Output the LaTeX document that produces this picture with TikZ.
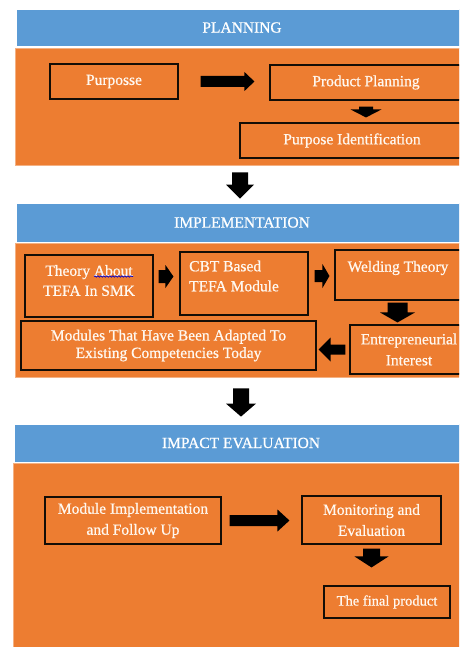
\documentclass[tikz,border=0pt]{standalone}
\usepackage{fontspec}
\setmainfont{Liberation Serif}
\newfontfamily\boxfont{Liberation Serif}[FakeBold=0.7]
\usetikzlibrary{calc,decorations.pathmorphing}
\definecolor{hdrblue}{HTML}{5B9BD5}
\definecolor{panelorange}{HTML}{ED7D31}
\definecolor{txtwhite}{HTML}{FFF8F0}
% block arrow: #1 start, #2 tip, #3 half shaft width, #4 half head width, #5 head length
\newcommand\blkarrow[5]{%
  \coordinate (bah) at ($(#2)!#5!(#1)$);
  \fill[arrowfill] ($(#1)!#3!90:(#2)$) -- ($(bah)!#3!-90:(#1)$) -- ($(bah)!#4!-90:(#1)$)
    -- (#2) -- ($(bah)!#4!90:(#1)$) -- ($(bah)!#3!90:(#1)$) -- ($(#1)!#3!-90:(#2)$) -- cycle;}
\begin{document}
\begin{tikzpicture}[x=1pt,y=-1pt,
  hdr/.style={draw=white, line width=0.8pt, fill=hdrblue, text=white, inner sep=0pt, font=\boxfont\fontsize{15.5}{18}\selectfont},
  panel/.style={draw=panelorange!60!white, line width=0.6pt, fill=panelorange},
  box/.style={draw=black!90!brown, line width=1.1pt, fill=panelorange, text=txtwhite, inner sep=0pt, align=center, font=\boxfont\fontsize{15.5}{21}\selectfont},
  txt/.style={text=txtwhite, inner sep=0pt, font=\boxfont\fontsize{15.5}{20}\selectfont},
  arrowfill/.style={fill=black}
]
\useasboundingbox (0,0) rectangle (459,647);
\clip (0,0) rectangle (459,647);
\fill[white] (0,0) rectangle (459,647);

% headers and panels
\node[hdr, minimum width=452, minimum height=37] (hplan) at (242,27.5) {PLANNING};
\node[panel, minimum width=453, minimum height=117] (pplan) at (241.5,106.5) {};
\node[hdr, minimum width=452, minimum height=39] (himpl) at (242,222.5) {IMPLEMENTATION};
\node[panel, minimum width=453, minimum height=134] (pimpl) at (241.5,310) {};
\node[hdr, minimum width=454, minimum height=38] (himp) at (241,443) {IMPACT EVALUATION};
\node[panel, minimum width=455, minimum height=197] (pimp) at (240.5,561.5) {};

% planning boxes
\node[box, minimum width=128, minimum height=35] (purp) at (114,81.5) {Purposse};
\node[box, minimum width=192, minimum height=35] (pp) at (366,82.5) {Product Planning};
\node[box, minimum width=224, minimum height=35] (pid) at (352,140.5) {Purpose Identification};

% implementation boxes
\node[box, minimum width=128, minimum height=62] (theory) at (89,286) {};
\node[txt, align=center] (theoryt) at (89,280.5) {Theory About\\TEFA In SMK};
\node[box, minimum width=128, minimum height=63] (cbt) at (244,283.5) {};
\node[txt, align=left, anchor=west] (cbtt) at (189,276) {CBT Based\\TEFA Module};
\node[box, minimum width=127, minimum height=50] (weld) at (398.5,275) {};
\node[txt] (weldt) at (398,268) {Welding Theory};
\node[box, minimum width=118, minimum height=49] (entre) at (409,349.5) {Entrepreneurial\\Interest};
\node[box, minimum width=295, minimum height=49, font=\boxfont\fontsize{15.5}{17.5}\selectfont] (mods) at (168.5,345.5) {Modules That Have Been Adapted To\\Existing Competencies Today};

% impact boxes
\node[box, minimum width=176, minimum height=47] (mimp) at (133,520.5) {Module Implementation\\and Follow Up};
\node[box, minimum width=139, minimum height=48] (mon) at (371.5,520) {Monitoring and\\Evaluation};
\node[box, minimum width=126, minimum height=32, font=\boxfont\fontsize{14.5}{18}\selectfont] (fin) at (387,602) {The final product};

% spell-check squiggle
\draw[decorate, decoration={snake, amplitude=0.7pt, segment length=3pt}, draw=blue!80!black, line width=0.7pt]
  ($(theory.center)+(5,-9.5)$) -- ($(theory.center)+(44,-9.5)$);

% block arrow end points
\coordinate (a1s) at ($(purp.east)+(22,0)$);
\coordinate (a1e) at ($(purp.east -| pp.west)+(-15,0)$);
\coordinate (a2s) at ($(pp.south)+(0,6)$);
\coordinate (a2e) at ($(pp.south |- pid.north)+(0,-5)$);
\coordinate (a3s) at ($(pplan.south)+(-1.5,7)$);
\coordinate (a3e) at ($(pplan.south |- himpl.north)+(-1.5,-4)$);
\coordinate (a4s) at ($(theory.east)+(5,-9.5)$);
\coordinate (a4e) at ($(theory.east -| cbt.west)+(-6,-9.5)$);
\coordinate (a5s) at ($(cbt.east)+(6,-7.5)$);
\coordinate (a5e) at ($(cbt.east -| weld.west)+(-5,-7.5)$);
\coordinate (a6s) at ($(weld.south)+(-1,2)$);
\coordinate (a6e) at ($(weld.south |- entre.north)+(-1,-2)$);
\coordinate (a7s) at ($(entre.west)+(-4,0)$);
\coordinate (a7e) at ($(entre.west -| mods.east)+(2,0)$);
\coordinate (a8s) at ($(pimpl.south)+(-0.5,11)$);
\coordinate (a8e) at ($(pimpl.south |- himp.north)+(-0.5,-7)$);
\coordinate (a9s) at ($(mimp.east)+(8,0)$);
\coordinate (a9e) at ($(mimp.east -| mon.west)+(-12,0)$);
\coordinate (a10s) at ($(mon.south)+(0,4)$);
\coordinate (a10e) at ($(mon.south |- fin.north)+(0,-18)$);

% block arrows
\blkarrow{a1s}{a1e}{5.5pt}{9.5pt}{10pt}
\blkarrow{a2s}{a2e}{7pt}{15.5pt}{8pt}
\blkarrow{a3s}{a3e}{8pt}{14pt}{14pt}
\blkarrow{a4s}{a4e}{6.5pt}{11.5pt}{8pt}
\blkarrow{a5s}{a5e}{6pt}{12pt}{7pt}
\blkarrow{a6s}{a6e}{10pt}{17.5pt}{10pt}
\blkarrow{a7s}{a7e}{5pt}{12pt}{12pt}
\blkarrow{a8s}{a8e}{8pt}{15pt}{13pt}
\blkarrow{a9s}{a9e}{5.5pt}{11pt}{12pt}
\blkarrow{a10s}{a10e}{8.5pt}{17pt}{11pt}
\end{tikzpicture}
\end{document}
